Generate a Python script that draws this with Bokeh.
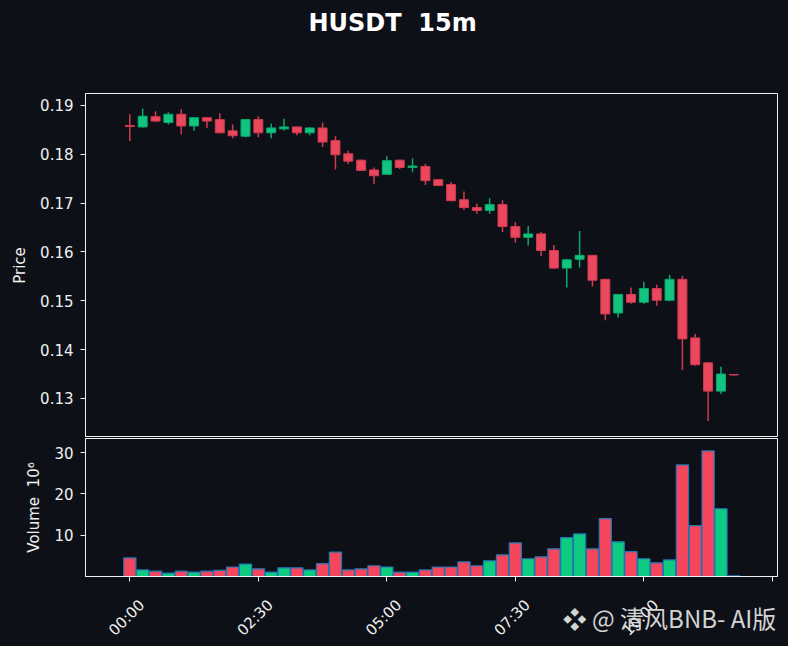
from math import pi
from bokeh.plotting import figure
from bokeh.layouts import column
from bokeh.models import ColumnDataSource, FixedTicker, Range1d, LinearAxis, NumeralTickFormatter, Title
from bokeh.embed import file_html
from bokeh.resources import INLINE

symbol = "HUSDT"
interval = "15m"

# 15m candles from 00:00
opens = [0.1859, 0.1856, 0.1877, 0.1865, 0.1882, 0.1858, 0.1875, 0.1871, 0.1848, 0.1837,
         0.1871, 0.1844, 0.1852, 0.1856, 0.1844, 0.1854, 0.1828, 0.1801, 0.1788, 0.1768,
         0.1759, 0.1788, 0.1773, 0.1775, 0.1748, 0.1738, 0.1707, 0.1691, 0.1685, 0.1697,
         0.1652, 0.1630, 0.1637, 0.1603, 0.1567, 0.1585, 0.1593, 0.1544, 0.1475, 0.1513,
         0.1497, 0.1525, 0.1501, 0.1544, 0.1424, 0.1373, 0.1315, 0.1349]
highs = [0.1882, 0.1894, 0.1888, 0.1886, 0.1892, 0.1876, 0.1876, 0.1884, 0.1861, 0.1872,
         0.1878, 0.1863, 0.1873, 0.1857, 0.1855, 0.1865, 0.1837, 0.1807, 0.1789, 0.1773,
         0.1796, 0.1789, 0.1792, 0.1780, 0.1749, 0.1743, 0.1724, 0.1699, 0.1710, 0.1706,
         0.1661, 0.1653, 0.1641, 0.1614, 0.1585, 0.1643, 0.1594, 0.1545, 0.1514, 0.1527,
         0.1539, 0.1533, 0.1553, 0.1551, 0.1432, 0.1374, 0.1365, 0.1350]
lows = [0.1827, 0.1855, 0.1866, 0.1861, 0.1841, 0.1848, 0.1854, 0.1843, 0.1833, 0.1835,
        0.1835, 0.1833, 0.1848, 0.1839, 0.1839, 0.1815, 0.1769, 0.1780, 0.1766, 0.1739,
        0.1758, 0.1770, 0.1763, 0.1737, 0.1735, 0.1704, 0.1686, 0.1678, 0.1678, 0.1641,
        0.1619, 0.1613, 0.1591, 0.1565, 0.1527, 0.1568, 0.1529, 0.1460, 0.1466, 0.1494,
        0.1494, 0.1490, 0.1499, 0.1358, 0.1367, 0.1254, 0.1309, 0.1347]
closes = [0.1857, 0.1878, 0.1868, 0.1882, 0.1858, 0.1875, 0.1868, 0.1844, 0.1838, 0.1871,
          0.1844, 0.1854, 0.1856, 0.1844, 0.1854, 0.1825, 0.1799, 0.1786, 0.1767, 0.1756,
          0.1787, 0.1773, 0.1776, 0.1746, 0.1736, 0.1705, 0.1691, 0.1685, 0.1697, 0.1652,
          0.1630, 0.1637, 0.1603, 0.1567, 0.1584, 0.1593, 0.1542, 0.1473, 0.1513, 0.1497,
          0.1525, 0.1501, 0.1544, 0.1422, 0.1369, 0.1315, 0.1350, 0.1348]
# volume in millions
volumes_m = [4.5, 1.6, 1.3, 0.8, 1.3, 1.05, 1.3, 1.5, 2.3, 3.0,
             1.85, 1.05, 2.1, 2.1, 1.6, 3.1, 5.9, 1.6, 1.85, 2.6,
             2.3, 1.05, 1.05, 1.6, 2.3, 2.3, 3.55, 2.6, 3.8, 5.25,
             8.15, 4.3, 4.75, 6.7, 9.4, 10.3, 6.7, 14.0, 8.4, 6.0,
             4.3, 3.3, 4.0, 27.0, 12.3, 30.4, 16.4, 0.15]

time_labels = ["00:00", "02:30", "05:00", "07:30", "10:00"]
price_ticks = [0.13, 0.14, 0.15, 0.16, 0.17, 0.18, 0.19]
volume_ticks = [10, 20, 30]
watermark = "\u2756 @ 清风BNB- AI版"

BG = "#0d1017"
FG = "#f0f0f0"
UP, DOWN = "#0ecb81", "#f6465d"

x = list(range(len(opens)))
up = [c >= o for o, c in zip(opens, closes)]
src = ColumnDataSource(dict(
    x=x, high=highs, low=lows,
    top=[max(o, c) for o, c in zip(opens, closes)],
    bottom=[min(o, c) for o, c in zip(opens, closes)],
    fill=["#12c480" if u else "#e9485d" for u in up],
    edge=["#0aa96c" if u else "#d23a50" for u in up],
    vfill=[UP if u else DOWN for u in up],
    vol=volumes_m,
))

xr = Range1d(-3.45, 50.4)


def style_axis(ax):
    ax.axis_line_color = FG
    ax.major_tick_line_color = FG
    ax.minor_tick_line_color = None
    ax.major_tick_out = 5
    ax.major_tick_in = 0
    ax.major_label_standoff = 7
    ax.major_label_text_color = FG
    ax.major_label_text_font = "DejaVu Sans"
    ax.major_label_text_font_size = "15px"
    ax.axis_label_text_color = FG
    ax.axis_label_text_font = "DejaVu Sans"
    ax.axis_label_text_font_size = "15px"
    ax.axis_label_text_font_style = "normal"
    ax.axis_label_standoff = 8


def style(f):
    f.background_fill_color = BG
    f.border_fill_color = BG
    f.outline_line_color = FG
    f.outline_line_width = 1
    f.grid.visible = False
    for ax in f.axis:
        style_axis(ax)


# header strip carrying the title
head = figure(width=788, height=92, x_range=xr, y_range=Range1d(0, 1),
              output_backend="svg", toolbar_location=None, title=None,
              min_border_left=85, min_border_right=11, min_border_top=0, min_border_bottom=0)
head.axis.visible = False
head.grid.visible = False
head.background_fill_color = BG
head.border_fill_color = BG
head.outline_line_color = BG
head.outline_line_width = 2
head.add_layout(Title(text=f"{symbol} \u00a0{interval}", align="left", offset=223, standoff=13,
                      text_font="DejaVu Sans", text_font_style="bold",
                      text_font_size="24px", text_color="white"), "above")

p = figure(width=788, height=345, x_range=xr, y_range=Range1d(0.1220, 0.19245),
           output_backend="svg", toolbar_location=None, title=None,
           min_border_left=85, min_border_right=11, min_border_top=1, min_border_bottom=0)
p.segment(x0="x", y0="high", x1="x", y1="low", line_color="edge", line_width=1.5, source=src)
p.vbar(x="x", width=0.7, top="top", bottom="bottom", fill_color="fill",
       line_color="edge", line_width=1, source=src)
style(p)
p.xaxis.visible = False
p.yaxis.ticker = FixedTicker(ticks=price_ticks)
p.yaxis.formatter = NumeralTickFormatter(format="0.00")
p.yaxis.axis_label = "Price"

v = figure(width=788, height=209, x_range=xr, y_range=Range1d(0, 33.4),
           output_backend="svg", toolbar_location=None,
           min_border_left=85, min_border_right=11, min_border_top=1, min_border_bottom=70)
v.extra_x_ranges = {"labels": Range1d(-3.45 - 0.95, 50.4 - 0.95)}
v.vbar(x="x", width=0.95, top="vol", bottom=0, fill_color="vfill",
       line_color="#1f77b4", line_width=1.2, source=src)
style(v)
v.yaxis.ticker = FixedTicker(ticks=volume_ticks)
v.yaxis.axis_label = "Volume \u00a010\u2076"

tick_pos = [10 * i for i in range(len(time_labels) + 1)]
v.xaxis.ticker = FixedTicker(ticks=tick_pos)
v.xaxis.major_label_overrides = {t: "" for t in tick_pos}
v.xaxis.major_label_text_font_size = "0px"
v.xaxis.major_label_standoff = 0

# time labels, rotated and centred under the ticks (own axis, no line);
# its axis label carries the watermark at the right end
lab_axis = LinearAxis(x_range_name="labels", ticker=FixedTicker(ticks=tick_pos[:len(time_labels)]))
style_axis(lab_axis)
lab_axis.axis_line_color = None
lab_axis.major_tick_line_color = None
lab_axis.major_tick_out = 0
lab_axis.major_label_standoff = 21
lab_axis.major_label_orientation = pi / 4
lab_axis.major_label_overrides = dict(zip(tick_pos, time_labels))
lab_axis.axis_label = watermark + "\u3000" * 9
lab_axis.axis_label_align = "end"
lab_axis.axis_label_standoff = -49
lab_axis.axis_label_text_font = "Noto Sans CJK SC"
lab_axis.axis_label_text_font_size = "24px"
lab_axis.axis_label_text_color = "#d4d4d4"
v.add_layout(lab_axis, "below")

layout = column(head, p, v, spacing=0, styles={"background-color": BG})
open("out.html", "w").write(file_html(layout, INLINE))
